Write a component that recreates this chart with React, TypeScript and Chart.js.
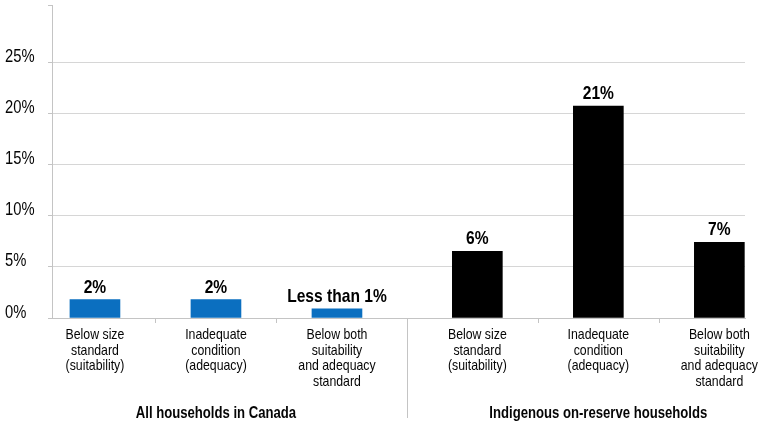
import { useEffect, useRef } from 'react';
import { Chart, registerables } from 'chart.js';

Chart.register(...registerables);

const categories: string[][] = [
  ['Below size', 'standard', '(suitability)'],
  ['Inadequate', 'condition', '(adequacy)'],
  ['Below both', 'suitability', 'and adequacy', 'standard'],
  ['Below size', 'standard', '(suitability)'],
  ['Inadequate', 'condition', '(adequacy)'],
  ['Below both', 'suitability', 'and adequacy', 'standard'],
];
const groupNames = ['All households in Canada', 'Indigenous on-reserve households'];
const groupOf = [0, 0, 0, 1, 1, 1];
const values = [1.8, 1.8, 0.9, 6.5, 20.7, 7.4];
const valueLabels = ['2%', '2%', 'Less than 1%', '6%', '21%', '7%'];
const yTickValues = [0, 5, 10, 15, 20, 25];
const yTickLabels = ['0%', '5%', '10%', '15%', '20%', '25%'];

const GROUP_GAP = 0.16;
const groupColors = ['#0b6fc0', '#000000'];
const FAMILY = "'Liberation Sans', Arial, sans-serif";
const SQUEEZE = 0.82;
const LINE = '#c4c4c4';
const GRID = '#d6d6d6';
const TEXT = '#050505';

const pos = (i: number) => i + groupOf[i] * GROUP_GAP;

function narrowText(ctx: CanvasRenderingContext2D, text: string, x: number, y: number, align: CanvasTextAlign) {
  ctx.save();
  ctx.translate(x, y);
  ctx.scale(SQUEEZE, 1);
  ctx.textAlign = align;
  ctx.fillText(text, 0, 0);
  ctx.restore();
}

const decorPlugin = {
  id: 'decor',
  afterDatasetsDraw(chart: any) {
    const { ctx, chartArea } = chart;
    const xs = chart.scales.x;
    const ys = chart.scales.y;
    const meta = chart.getDatasetMeta(0);
    ctx.save();
    ctx.textBaseline = 'alphabetic';

    // top tick of the y axis
    ctx.strokeStyle = LINE;
    ctx.lineWidth = 1;
    ctx.beginPath();
    ctx.moveTo(chartArea.left - 4, Math.round(chartArea.top) + 0.5);
    ctx.lineTo(chartArea.left + 1, Math.round(chartArea.top) + 0.5);
    ctx.stroke();

    // y tick labels
    ctx.fillStyle = TEXT;
    ctx.font = `18px ${FAMILY}`;
    yTickValues.forEach((v, i) => {
      narrowText(ctx, yTickLabels[i], 5, ys.getPixelForValue(v) - 0.5, 'left');
    });

    // value labels
    ctx.fillStyle = '#000';
    ctx.font = `bold 19px ${FAMILY}`;
    meta.data.forEach((bar: any, i: number) => {
      narrowText(ctx, valueLabels[i], bar.x, bar.y - 7, 'center');
    });

    // category labels
    ctx.fillStyle = TEXT;
    ctx.font = `15px ${FAMILY}`;
    categories.forEach((lines, i) => {
      const x = xs.getPixelForValue(pos(i));
      lines.forEach((line, k) => {
        narrowText(ctx, line, x, chartArea.bottom + 21 + k * 15.5, 'center');
      });
    });

    // separators
    for (let i = 0; i < categories.length - 1; i++) {
      const mid = (xs.getPixelForValue(pos(i)) + xs.getPixelForValue(pos(i + 1))) / 2;
      const x = Math.round(mid) + 0.5;
      const long = groupOf[i] !== groupOf[i + 1];
      ctx.beginPath();
      ctx.moveTo(x, chartArea.bottom);
      ctx.lineTo(x, chartArea.bottom + (long ? 100 : 5));
      ctx.stroke();
    }

    // group labels
    ctx.fillStyle = TEXT;
    ctx.font = `bold 16px ${FAMILY}`;
    groupNames.forEach((name, g) => {
      const idx = groupOf.map((v, i) => (v === g ? i : -1)).filter((i) => i >= 0);
      const a = xs.getPixelForValue(pos(idx[0]));
      const b = xs.getPixelForValue(pos(idx[idx.length - 1]));
      narrowText(ctx, name, (a + b) / 2, chartArea.bottom + 100, 'center');
    });
    ctx.restore();
  },
};

export default function App() {
  const ref = useRef<HTMLCanvasElement | null>(null);
  useEffect(() => {
    if (!ref.current) return;
    const chart = new Chart(ref.current, {
      type: 'bar',
      data: {
        datasets: [
          {
            data: values.map((v, i) => ({ x: pos(i), y: v })),
            backgroundColor: groupOf.map((g) => groupColors[g]),
            barThickness: 50,
            borderWidth: 0,
          },
        ],
      },
      options: {
        animation: false,
        responsive: true,
        maintainAspectRatio: false,
        layout: { padding: { left: 5, top: 5, right: 24, bottom: 0 } },
        plugins: { legend: { display: false }, tooltip: { enabled: false } },
        scales: {
          x: {
            type: 'linear',
            offset: false,
            min: -0.355,
            max: 5.372,
            grid: { display: false, drawTicks: false, offset: false },
            border: { display: true, color: LINE },
            afterBuildTicks: (scale: any) => {
              scale.ticks = categories.map((_, i) => ({ value: pos(i) }));
            },
            afterFit: (scale: any) => {
              scale.height = 109;
            },
            ticks: { display: false },
          },
          y: {
            min: 0,
            max: 30.57,
            afterBuildTicks: (scale: any) => {
              scale.ticks = yTickValues.map((v) => ({ value: v }));
            },
            afterFit: (scale: any) => {
              scale.width = 47;
            },
            grid: {
              color: GRID,
              tickLength: 4,
              tickColor: LINE,
            },
            border: { display: true, color: LINE },
            ticks: { display: false },
          },
        },
      },
      plugins: [decorPlugin],
    } as any);
    return () => chart.destroy();
  }, []);
  return (
    <div style={{ position: 'absolute', left: 0, top: 0, width: 769, height: 427, background: '#fff' }}>
      <canvas ref={ref} />
    </div>
  );
}
